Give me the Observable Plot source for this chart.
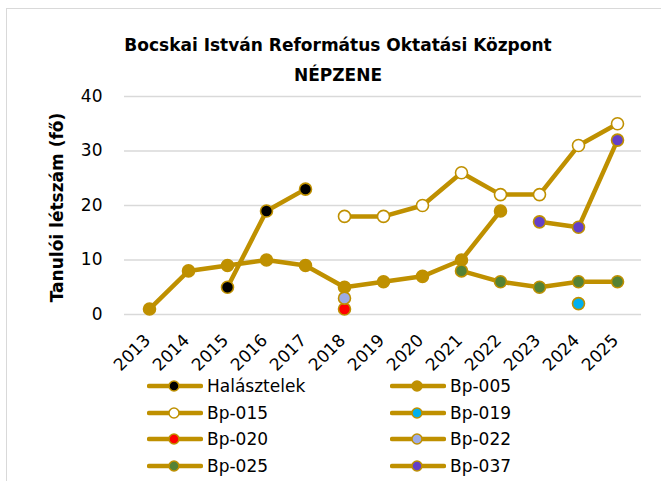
<!DOCTYPE html>
<html><head><meta charset="utf-8">
<script src="https://cdn.jsdelivr.net/npm/d3@7"></script>
<script src="https://cdn.jsdelivr.net/npm/@observablehq/plot@0.6"></script>
<style>
body{margin:0;background:#fff;font-family:"DejaVu Sans",sans-serif;}
#wrap{position:relative;width:661px;height:481px;overflow:hidden;background:#fff;}
#frame{position:absolute;left:6px;top:8px;width:720px;height:520px;border:1.7px solid #d9d9d9;box-sizing:border-box;}
#title{position:absolute;left:0;width:676px;top:30px;text-align:center;font-weight:bold;font-size:17px;line-height:30px;color:#000;}
#chart{position:absolute;left:0;top:0;}
.leg{position:absolute;height:20px;display:flex;align-items:center;font-size:17px;color:#000;white-space:nowrap;}
.leg svg{display:block;margin-right:4px;}
</style></head>
<body>
<div id="wrap">
  <div id="frame"></div>
  <div id="chart"></div>
  <div id="title">Bocskai István Református Oktatási Központ<br>NÉPZENE</div>
</div>
<script>
const years = [2013,2014,2015,2016,2017,2018,2019,2020,2021,2022,2023,2024,2025];
const seriesNames = ["Halásztelek","Bp-005","Bp-015","Bp-019","Bp-020","Bp-022","Bp-025","Bp-037"];
const halasztelek = [null,null,5,19,23,null,null,null,null,null,null,null,null];
const bp005 = [1,8,9,10,9,5,6,7,10,19,null,null,null];
const bp015 = [null,null,null,null,null,18,18,20,26,22,22,31,35];
const bp019 = [null,null,null,null,null,null,null,null,null,null,null,2,null];
const bp020 = [null,null,null,null,null,1,null,null,null,null,null,null,null];
const bp022 = [null,null,null,null,null,3,null,null,null,null,null,null,null];
const bp025 = [null,null,null,null,null,null,null,null,8,6,5,6,6];
const bp037 = [null,null,null,null,null,null,null,null,null,null,17,16,32];
const markerFills = ["#000000","#BF9000","#FFFFFF","#00B0F0","#FF0000","#9DABE6","#548235","#6440C8"];
const yTicks = [0,10,20,30,40];
const lineColor = "#BF9000";
const yTitle = "Tanulói létszám (fő)";

const seriesValues = [halasztelek,bp005,bp015,bp019,bp020,bp022,bp025,bp037];
const data = [];
seriesNames.forEach((name,i)=>{
  years.forEach((yr,j)=>{
    data.push({series:name, year:yr, value:seriesValues[i][j], fill:markerFills[i]});
  });
});

const chart = Plot.plot({
  width: 661, height: 400,
  marginLeft: 124, marginRight: 20, marginTop: 96, marginBottom: 86,
  style: {fontFamily: "DejaVu Sans", fontSize: "17px", color: "#000", background: "transparent"},
  x: {type: "point", domain: years, padding: 0.5},
  y: {domain: [0,40]},
  color: {type: "identity"},
  marks: [
    Plot.gridY(yTicks, {stroke: "#d9d9d9", strokeOpacity: 1, strokeWidth: 1.5}),
    Plot.axisY(yTicks, {tickSize: 0, tickPadding: 22, fontSize: 17, label: null}),
    Plot.axisX({tickSize: 0, tickRotate: -45, tickPadding: 23, dx: -2, fontSize: 17, label: null, tickFormat: d => String(d)}),
    Plot.text([yTitle], {text: d => d, frameAnchor: "left", textAnchor: "middle", dx: -67, dy: 2, rotate: -90, fontWeight: "bold", fontSize: 17}),
    Plot.line(data, {x: "year", y: "value", z: "series", stroke: lineColor, strokeWidth: 4.5, strokeLinejoin: "round", strokeLinecap: "round"}),
    Plot.dot(data, {x: "year", y: "value", fill: "fill", stroke: lineColor, strokeWidth: 1.6, r: 6})
  ]
});
document.getElementById("chart").appendChild(chart);

// legend
const legCols = [147, 390];
const legRows = [386, 413, 439, 466];
const wrap = d3.select("#wrap");
seriesNames.forEach((name,i)=>{
  const col = i % 2, row = Math.floor(i/2);
  const item = wrap.append("div").attr("class","leg")
    .style("left", legCols[col] + "px").style("top", (legRows[row]-10) + "px");
  const svg = item.append("svg").attr("width",56).attr("height",16);
  svg.append("line").attr("x1",2).attr("x2",54).attr("y1",8).attr("y2",8)
    .attr("stroke",lineColor).attr("stroke-width",4.5).attr("stroke-linecap","round");
  svg.append("circle").attr("cx",27).attr("cy",8).attr("r",5)
    .attr("fill",markerFills[i]).attr("stroke",lineColor).attr("stroke-width",1.5);
  item.append("span").text(name);
});
</script>
</body></html>
